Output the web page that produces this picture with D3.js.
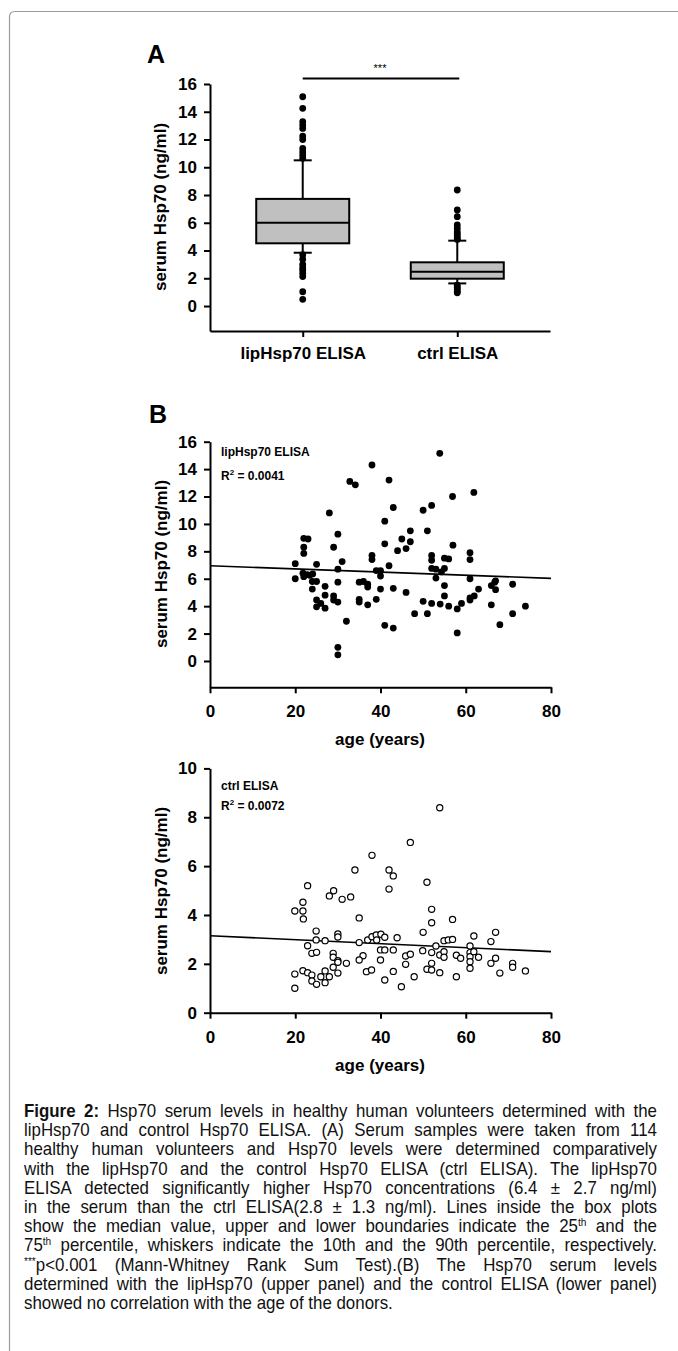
<!DOCTYPE html>
<html>
<head>
<meta charset="utf-8">
<script src="https://cdn.jsdelivr.net/npm/d3@7"></script>
<style>
  body { margin: 0; background: #fff; }
  svg text { font-family: "Liberation Sans", Arial, sans-serif; }
</style>
</head>
<body>
<div id="container"></div>
<script>
// ---- panel A: box plot stats (ng/ml) ----
const boxCats = ["lipHsp70 ELISA", "ctrl ELISA"];
const boxP10 = [3.84, 1.63];
const boxQ1 = [4.52, 1.97];
const boxMed = [6.0, 2.47];
const boxQ3 = [7.72, 3.15];
const boxP90 = [10.5, 4.71];
const lipOutliers = [15.08, 14.25, 13.28, 13.04, 12.8, 12.25, 12.0, 11.36, 11.1, 10.88, 10.65,
  3.7, 3.37, 3.0, 2.76, 2.6, 2.36, 2.12, 1.03, 0.48];
const ctrlOutliers = [8.36, 6.92, 6.44, 5.84, 5.6, 5.36, 5.2, 5.05, 4.9, 4.8,
  1.5, 1.35, 1.2, 1.05, 0.95];
const yTicksA = [0, 2, 4, 6, 8, 10, 12, 14, 16];

// ---- panel B top: lipHsp70 ELISA vs age ----
const lipAge = [53.9, 38, 32.8, 34.1, 42, 61.9, 56.9, 43, 52, 50, 28, 41, 30, 47, 51, 22, 23, 41, 47, 45,
  22, 29, 57, 44, 46, 22, 38, 38, 52, 52, 55, 56, 61, 61, 31, 25, 20, 42, 30, 39, 40, 52, 53, 54.3, 55,
  21.8, 22.8, 23.4, 24.1, 22, 40, 20, 53, 61, 67, 71, 24, 25, 24, 27, 30, 35, 36, 37, 37, 40, 43, 46,
  25, 26, 25, 27, 27, 29, 29, 30, 35, 35, 37, 39, 32, 41, 43, 48, 30, 30, 55, 55, 50, 52, 54, 56, 58,
  59, 61, 61, 62, 63, 51, 58, 66, 66.8, 67, 66, 71, 68, 74];
const lipVal = [15.15, 14.3, 13.1, 12.85, 13.2, 12.3, 12.0, 11.2, 11.35, 11.0, 10.8, 10.2, 9.25, 9.5, 9.5, 8.95, 8.9, 8.55, 8.7, 8.9,
  8.3, 8.3, 8.45, 8.05, 8.2, 7.85, 7.7, 7.4, 7.7, 7.35, 7.5, 7.45, 7.9, 7.4, 7.25, 7.05, 7.1, 6.95, 6.7, 6.6, 6.6, 6.75, 6.7, 6.5, 6.75,
  6.4, 6.3, 6.25, 6.35, 6.15, 6.2, 6.0, 6.05, 6.0, 5.85, 5.6, 5.8, 5.8, 5.25, 5.45, 5.75, 5.75, 5.8, 5.6, 5.4, 5.25, 5.3, 5.0,
  4.45, 4.2, 3.95, 3.85, 4.8, 4.75, 4.45, 4.3, 4.5, 4.3, 4.1, 4.5, 2.9, 2.6, 2.4, 3.45, 1.0, 0.45, 5.5, 4.75, 4.35, 4.2, 4.15, 4.0, 3.8,
  4.2, 4.45, 4.6, 4.75, 5.25, 3.45, 2.05, 5.5, 5.75, 5.2, 4.1, 3.45, 2.65, 4.0];
const lipTrend = [6.95, 6.03];   // fitted value at age 0 and 80

// ---- panel B bottom: ctrl ELISA vs age ----
const ctrlAge = [53.9, 47, 38, 42, 43, 42, 34, 50.9, 22.9, 29, 28, 31, 33, 19.9, 21.8, 21.8, 21.9, 52, 52, 35,
  56.9, 50, 67, 61.9, 24.9, 24.9, 27, 30, 30, 22.9, 23.9, 25, 28.9, 28.9, 30, 30, 32, 35, 35.9, 35,
  37, 38, 39, 40.1, 39.1, 41, 43.9, 40, 41, 43, 40, 45.9, 47, 45.9, 36.7, 37.9, 43, 41, 44.9, 47.9,
  49.9, 52, 53, 53.9, 54.9, 54.9, 55.9, 56.9, 57.8, 58.8, 54.9, 50.9, 52, 52, 53.9, 57.8, 61, 61, 61,
  61.9, 63, 61, 61, 65.9, 67, 65.9, 68, 71, 71, 74, 19.9, 19.9, 21.8, 22.9, 23.9, 23.9, 25, 26, 27, 27,
  28, 28.9, 30];
const ctrlVal = [8.39, 6.97, 6.44, 5.84, 5.6, 5.06, 5.84, 5.34, 5.2, 4.99, 4.78, 4.64, 4.74, 4.16, 4.52, 4.16, 3.84, 4.23, 3.68, 3.88,
  3.82, 3.29, 3.29, 3.14, 3.34, 2.98, 2.95, 3.22, 3.1, 2.74, 2.43, 2.47, 2.43, 2.27, 2.13, 2.06, 2.02, 2.87, 2.33, 2.16,
  2.98, 3.11, 3.18, 3.21, 2.98, 3.09, 3.07, 2.57, 2.57, 2.57, 2.16, 2.32, 2.39, 1.98, 1.68, 1.75, 1.69, 1.34, 1.06, 1.47,
  2.54, 2.46, 2.73, 2.36, 2.5, 2.95, 2.98, 3.0, 2.35, 2.23, 2.27, 1.78, 2.02, 1.75, 1.64, 1.47, 2.73, 2.46, 2.29,
  2.5, 2.27, 2.09, 1.82, 2.91, 2.23, 2.02, 1.62, 2.02, 1.86, 1.71, 1.58, 1.0, 1.72, 1.64, 1.54, 1.3, 1.16, 1.47, 1.71, 1.23,
  1.47, 1.86, 1.62];
const ctrlTrend = [3.15, 2.5];

const ageTicks = [0, 20, 40, 60, 80];
const yTicksTop = [0, 2, 4, 6, 8, 10, 12, 14, 16];
const yTicksBottom = [0, 2, 4, 6, 8, 10];

// caption lines (justified except last)
const captionLines = [
  [["b", "Figure 2:"], ["n", " Hsp70 serum levels in healthy human volunteers determined with the"]],
  [["n", "lipHsp70 and control Hsp70 ELISA. (A) Serum samples were taken from 114"]],
  [["n", "healthy human volunteers and Hsp70 levels were determined comparatively"]],
  [["n", "with the lipHsp70 and the control Hsp70 ELISA (ctrl ELISA). The lipHsp70"]],
  [["n", "ELISA detected significantly higher Hsp70 concentrations (6.4 \u00b1 2.7 ng/ml)"]],
  [["n", "in the serum than the ctrl ELISA(2.8 \u00b1 1.3 ng/ml). Lines inside the box plots"]],
  [["n", "show the median value, upper and lower boundaries indicate the 25"], ["s", "th"], ["n", " and the"]],
  [["n", "75"], ["s", "th"], ["n", " percentile, whiskers indicate the 10th and the 90th percentile, respectively."]],
  [["s", "***"], ["n", "p<0.001 (Mann-Whitney Rank Sum Test).(B) The Hsp70 serum levels"]],
  [["n", "determined with the lipHsp70 (upper panel) and the control ELISA (lower panel)"]],
  [["n", "showed no correlation with the age of the donors."]]
];

const W = 678, H = 1351;
const svg = d3.select("#container").append("svg")
  .attr("width", W).attr("height", H);

// frame of the figure box
svg.append("path")
  .attr("d", "M9.5,1351 V17 Q9.5,11.5 15,11.5 H678")
  .attr("fill", "none")
  .attr("stroke", "#9a9a9a")
  .attr("stroke-width", 1.2);

function styleAxis(g) {
  g.selectAll("path, line").attr("stroke", "#000").attr("stroke-width", 2);
  g.selectAll("text")
    .attr("fill", "#000")
    .style("font-family", "'Liberation Sans', Arial, sans-serif")
    .style("font-weight", "bold")
    .style("font-size", "17px");
}

function yTitle(cx, cy) {
  svg.append("text")
    .attr("transform", `translate(${cx},${cy}) rotate(-90)`)
    .attr("text-anchor", "middle")
    .attr("dy", "0.35em")
    .style("font-weight", "bold")
    .style("font-size", "17px")
    .text("serum Hsp70 (ng/ml)");
}

// ============ panel A ============
svg.append("text").attr("x", 147).attr("y", 63)
  .style("font-weight", "bold").style("font-size", "25px").text("A");

const xA = d3.scalePoint().domain(boxCats).range([210, 550]).padding(0.6);
const yA = d3.scaleLinear().domain([-1.8, 16]).range([331, 84]);

svg.append("g").attr("transform", "translate(210,0)")
  .call(d3.axisLeft(yA).tickValues(yTicksA).tickSize(6).tickSizeOuter(0).tickPadding(7))
  .call(styleAxis);
svg.append("g").attr("transform", `translate(0,${yA(-1.8)})`)
  .call(d3.axisBottom(xA).tickSize(6).tickSizeOuter(0).tickPadding(10))
  .call(styleAxis);
yTitle(160, 207);

const boxW = 93, capW = 18;
const boxes = svg.append("g");
boxCats.forEach((c, i) => {
  const cx = xA(c);
  // whiskers
  boxes.append("line").attr("x1", cx).attr("x2", cx)
    .attr("y1", yA(boxP90[i])).attr("y2", yA(boxP10[i]))
    .attr("stroke", "#000").attr("stroke-width", 2);
  [boxP90[i], boxP10[i]].forEach(v => {
    boxes.append("line").attr("x1", cx - capW / 2).attr("x2", cx + capW / 2)
      .attr("y1", yA(v)).attr("y2", yA(v))
      .attr("stroke", "#000").attr("stroke-width", 2);
  });
  boxes.append("rect")
    .attr("x", cx - boxW / 2).attr("width", boxW)
    .attr("y", yA(boxQ3[i])).attr("height", yA(boxQ1[i]) - yA(boxQ3[i]))
    .attr("fill", "#c0c0c0").attr("stroke", "#000").attr("stroke-width", 2);
  boxes.append("line").attr("x1", cx - boxW / 2).attr("x2", cx + boxW / 2)
    .attr("y1", yA(boxMed[i])).attr("y2", yA(boxMed[i]))
    .attr("stroke", "#000").attr("stroke-width", 2);
});
[lipOutliers, ctrlOutliers].forEach((arr, i) => {
  boxes.selectAll(null).data(arr).enter().append("circle")
    .attr("cx", xA(boxCats[i])).attr("cy", d => yA(d)).attr("r", 3.4).attr("fill", "#000");
});

// significance bar
svg.append("line")
  .attr("x1", xA(boxCats[0])).attr("x2", xA(boxCats[1]) + 2)
  .attr("y1", 78.5).attr("y2", 78.5)
  .attr("stroke", "#000").attr("stroke-width", 2);
svg.append("text").attr("x", (xA(boxCats[0]) + xA(boxCats[1])) / 2).attr("y", 72)
  .attr("text-anchor", "middle").style("font-size", "11px").text("***");

// ============ panel B ============
svg.append("text").attr("x", 149).attr("y", 423)
  .style("font-weight", "bold").style("font-size", "25px").text("B");

const xAge = d3.scaleLinear().domain([0, 80]).range([210, 551]);

function scatterPanel(opt) {
  const y = d3.scaleLinear().domain(opt.ydom).range(opt.yrange);
  const baseY = y(opt.ydom[0]);
  svg.append("g").attr("transform", "translate(210,0)")
    .call(d3.axisLeft(y).tickValues(opt.yticks).tickSize(6).tickSizeOuter(0).tickPadding(7))
    .call(styleAxis);
  svg.append("g").attr("transform", `translate(0,${baseY})`)
    .call(d3.axisBottom(xAge).tickValues(ageTicks).tickSize(6).tickSizeOuter(0).tickPadding(12))
    .call(styleAxis);
  svg.append("text").attr("x", 380).attr("y", baseY + 58)
    .attr("text-anchor", "middle")
    .style("font-weight", "bold").style("font-size", "17px").text("age (years)");
  yTitle(161, opt.titleY);

  // trend line
  svg.append("line")
    .attr("x1", xAge(0)).attr("x2", xAge(80))
    .attr("y1", y(opt.trend[0])).attr("y2", y(opt.trend[1]))
    .attr("stroke", "#000").attr("stroke-width", 1.6);

  svg.append("g").selectAll("circle")
    .data(opt.ages.map((a, i) => [a, opt.vals[i]]))
    .enter().append("circle")
    .attr("cx", d => xAge(d[0])).attr("cy", d => y(d[1]))
    .attr("r", opt.open ? 3.1 : 3.4)
    .attr("fill", opt.open ? "#fff" : "#000")
    .attr("stroke", "#000").attr("stroke-width", opt.open ? 1.2 : 0);

  svg.append("text").attr("x", 221).attr("y", opt.labelY)
    .style("font-weight", "bold").style("font-size", "12px").text(opt.label);
  const r2 = svg.append("text").attr("x", 221).attr("y", opt.labelY + opt.gap)
    .style("font-weight", "bold").style("font-size", "12px");
  r2.append("tspan").text("R");
  r2.append("tspan").attr("dy", -5).style("font-size", "8px").text("2");
  r2.append("tspan").attr("dy", 5).text(" = " + opt.r2);
}

scatterPanel({
  ydom: [-1.92, 16], yrange: [687.3, 441.7], yticks: yTicksTop,
  ages: lipAge, vals: lipVal, trend: lipTrend, open: false,
  label: "lipHsp70 ELISA", r2: "0.0041", labelY: 456, gap: 23.5, titleY: 564
});
scatterPanel({
  ydom: [0, 10], yrange: [1012.7, 768.4], yticks: yTicksBottom,
  ages: ctrlAge, vals: ctrlVal, trend: ctrlTrend, open: true,
  label: "ctrl ELISA", r2: "0.0072", labelY: 789.5, gap: 20, titleY: 891
});

// ============ caption ============
// the original uses a narrow face; emulate it by squeezing a regular one horizontally
const capLeft = 24, capRight = 657, capTop = 1117, capLH = 19.2, lastLineWidth = 369;
const capTexts = captionLines.map((parts, i) => {
  const t = svg.append("text")
    .style("font-size", "17.5px").attr("fill", "#111");
  parts.forEach(([k, s], j) => {
    const sp = t.append("tspan").text(s);
    if (k === "b") sp.style("font-weight", "bold");
    if (k === "s") sp.style("font-size", "10.5px").attr("dy", -6);
    if (j > 0 && parts[j - 1][0] === "s" && k !== "s") sp.attr("dy", 6);
  });
  return t;
});
const sx = lastLineWidth / capTexts[capTexts.length - 1].node().getComputedTextLength();
capTexts.forEach((t, i) => {
  t.attr("transform", `translate(${capLeft},${capTop + i * capLH}) scale(${sx},1)`);
  if (i < capTexts.length - 1) {
    const natural = t.node().getComputedTextLength();
    const nSpaces = captionLines[i].map(p => p[1]).join("").split(" ").length - 1;
    t.attr("word-spacing", ((capRight - capLeft) / sx - natural) / nSpaces);
  }
});
</script>
</body>
</html>
